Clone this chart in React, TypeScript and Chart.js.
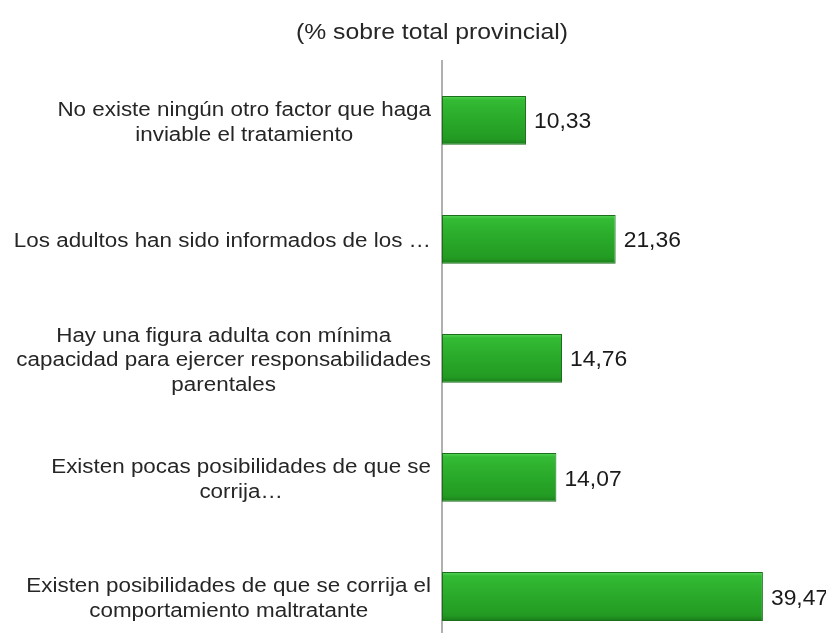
import { useEffect, useRef } from "react";
import { Chart, registerables } from "chart.js";

Chart.register(...registerables);

const titleText = "(% sobre total provincial)";

const categories: string[][] = [
  ["No existe ningún otro factor que haga", "inviable el tratamiento"],
  ["Los adultos han sido informados de los …"],
  ["Hay una figura adulta con mínima", "capacidad para ejercer responsabilidades", "parentales"],
  ["Existen pocas posibilidades de que se", "corrija…"],
  ["Existen posibilidades de que se corrija el", "comportamiento maltratante"],
];

const values: number[] = [10.33, 21.36, 14.76, 14.07, 39.47];

const FONT = '"Liberation Sans", Arial, Helvetica, sans-serif';

const fmt = (v: number) => v.toFixed(2).replace(".", ",");

function drawStretched(
  ctx: CanvasRenderingContext2D,
  text: string,
  x: number,
  y: number,
  align: CanvasTextAlign,
  sx: number
) {
  ctx.save();
  ctx.translate(x, y);
  ctx.scale(sx, 1);
  ctx.textAlign = align;
  ctx.fillText(text, 0, 0);
  ctx.restore();
}

export default function App() {
  const ref = useRef<HTMLCanvasElement>(null);

  useEffect(() => {
    document.documentElement.style.overflow = "hidden";
    const canvas = ref.current;
    if (!canvas) return;
    const barPct = 0.41;
    const labelSx = 1.12;
    const valueSx = 1.04;
    const titleSx = 1.15;

    const textPlugin = {
      id: "texts",
      afterDraw(chart: any) {
        const ctx = chart.ctx;
        const ys = chart.scales.y;
        ctx.save();
        ctx.fillStyle = "#262626";
        ctx.textBaseline = "middle";

        // title
        const tb = chart.titleBlock;
        ctx.font = `21.5px ${FONT}`;
        drawStretched(ctx, titleText, tb.left + tb.width / 2, tb.top + 25, "center", titleSx);

        // category labels
        ctx.font = `20px ${FONT}`;
        const right = chart.chartArea.left - 11;
        categories.forEach((lines, i) => {
          const yc = ys.getPixelForValue(i) + 2.5;
          const w = Math.max(...lines.map((l) => ctx.measureText(l).width)) * labelSx;
          const cx = right - w / 2;
          lines.forEach((l, j) => {
            drawStretched(ctx, l, cx, yc + (j - (lines.length - 1) / 2) * 24.5, "center", labelSx);
          });
        });
        ctx.restore();
      },
    };

    const valuePlugin = {
      id: "valueLabels",
      afterDatasetsDraw(chart: any) {
        const ctx = chart.ctx;
        const meta = chart.getDatasetMeta(0);
        ctx.save();
        ctx.font = `22px ${FONT}`;
        ctx.fillStyle = "#1a1a1a";
        ctx.textBaseline = "middle";
        meta.data.forEach((bar: any, i: number) => {
          drawStretched(ctx, fmt(values[i]), bar.x + 8, bar.y + 2, "left", valueSx);
        });
        ctx.restore();
      },
    };

    const chart = new Chart(canvas, {
      type: "bar",
      data: {
        labels: categories.map((c) => c.join(" ")),
        datasets: [
          {
            data: values,
            backgroundColor: (c: any) => {
              const ch = c.chart;
              const area = ch.chartArea;
              if (!area || c.dataIndex === undefined) return "#2aa82a";
              const ys = ch.scales.y;
              const yc = ys.getPixelForValue(c.dataIndex);
              const h = ((area.bottom - area.top) / categories.length) * barPct;
              const g = ch.ctx.createLinearGradient(0, yc - h / 2, 0, yc + h / 2);
              g.addColorStop(0, "#5ad65a");
              g.addColorStop(0.08, "#34bb34");
              g.addColorStop(0.5, "#29a929");
              g.addColorStop(0.88, "#239b23");
              g.addColorStop(1, "#1a7c1a");
              return g;
            },
            borderColor: "#1b6f1b",
            borderWidth: 1,
            borderSkipped: false,
            categoryPercentage: 1,
            barPercentage: barPct,
          },
        ],
      },
      options: {
        indexAxis: "y",
        animation: false,
        responsive: false,
        events: [],
        layout: { padding: { left: 40, right: 18, top: 0, bottom: 0 } },
        plugins: {
          legend: { display: false },
          tooltip: { enabled: false },
          title: {
            display: true,
            text: titleText,
            color: "rgba(0,0,0,0)",
            font: { family: FONT, size: 24, weight: "normal" },
            padding: { top: 10, bottom: 14 },
          },
        },
        scales: {
          x: { display: false, min: 0, max: 46 },
          y: {
            grid: { display: false, drawTicks: false },
            border: { display: true, color: "#b0b0b0", width: 2 },
            ticks: { display: false },
            afterFit: (s: any) => {
              s.width = 394;
            },
          },
        },
      },
      plugins: [textPlugin, valuePlugin],
    } as any);

    return () => chart.destroy();
  }, []);

  return (
    <div style={{ width: 826, height: 625, overflow: "hidden" }}>
      <canvas
        ref={ref}
        width={826}
        height={648}
        style={{ display: "block", width: 826, height: 648 }}
      />
    </div>
  );
}
